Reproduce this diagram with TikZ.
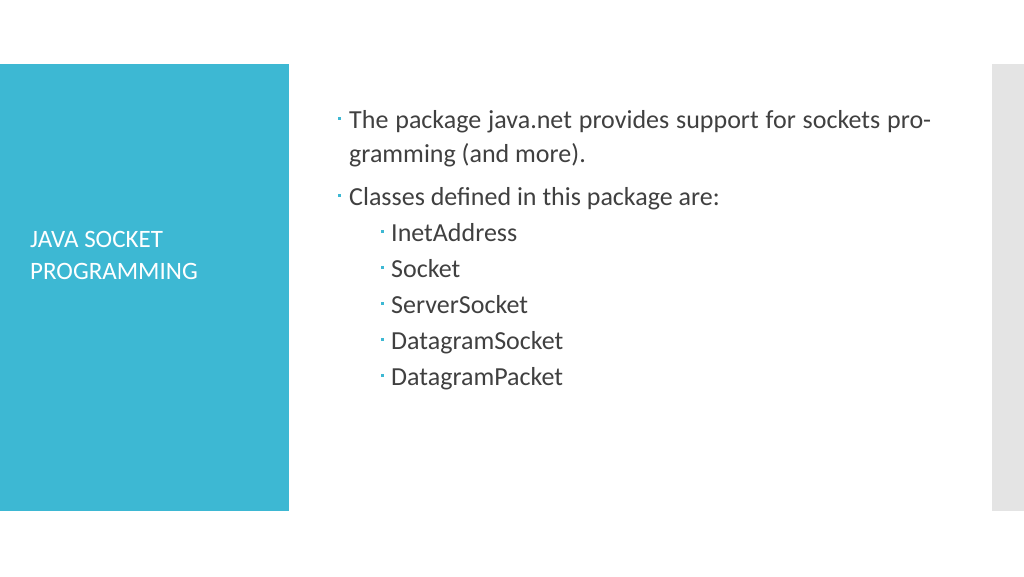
\documentclass[tikz,border=0pt]{standalone}
\usepackage{fontspec}
\setmainfont{Carlito}
\definecolor{teal}{HTML}{3DB8D3}
\definecolor{txt}{HTML}{404040}
\definecolor{bar}{HTML}{E4E4E4}
\begin{document}
\begin{tikzpicture}[x=1pt,y=-1pt,
  t/.style={anchor=base west,inner sep=0pt,text=txt,font=\fontsize{26}{34}\selectfont},
  b/.style={fill=teal,minimum size=3pt,inner sep=0pt}]
\useasboundingbox (0,0) rectangle (1024,576);
\fill[white] (0,0) rectangle (1024,576);
\fill[teal] (0,64) rectangle (289,511);
\fill[bar] (992,64) rectangle (1024,511);
\node[anchor=base west,inner sep=0pt,text=white,font=\fontsize{25}{32}\selectfont,align=left] (title) at (30,279) {JAVA SOCKET\\PROGRAMMING};
\node[t,text width=582,align=justify] (p1) at (349,128) {The package java.net provides support for sockets programming (and more).};
\node[b] (b1) at (339,118) {};
\node[t] (p2) at (349,205) {Classes defined in this package are:};
\node[b] (b2) at (339,195) {};
\foreach \s/\y in {InetAddress/241,Socket/277,ServerSocket/313,DatagramSocket/349,DatagramPacket/385}{
  \node[t] (s\y) at (391,\y) {\s};
  \node[b] (sb\y) at (382,\y-10) {};
}
\end{tikzpicture}
\end{document}
